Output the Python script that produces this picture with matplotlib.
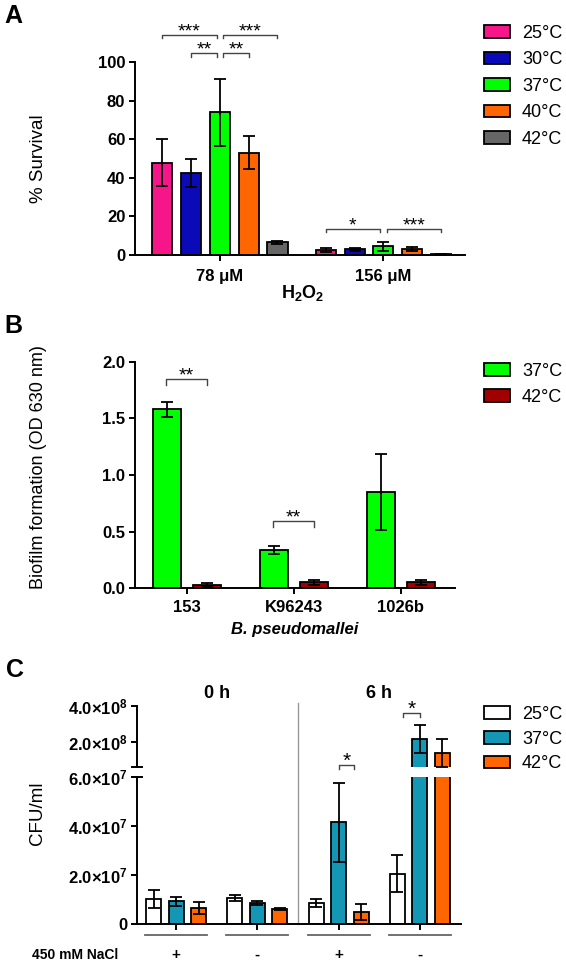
import numpy as np
import matplotlib
matplotlib.use('Agg')
import matplotlib.pyplot as plt
from matplotlib.lines import Line2D

plt.rcParams['font.family'] = 'Liberation Sans'
plt.rcParams['mathtext.fontset'] = 'custom'
plt.rcParams['mathtext.rm'] = 'Liberation Sans:bold'
plt.rcParams['mathtext.bf'] = 'Liberation Sans:bold'
plt.rcParams['mathtext.it'] = 'Liberation Sans:italic:bold'
plt.rcParams['mathtext.default'] = 'bf'
plt.rcParams['axes.linewidth'] = 1.4
plt.rcParams['xtick.major.width'] = 1.4
plt.rcParams['ytick.major.width'] = 1.4
plt.rcParams['xtick.major.size'] = 4
plt.rcParams['ytick.major.size'] = 4

# ---- panel A: survival after H2O2 ----
temps_a = ['25°C', '30°C', '37°C', '40°C', '42°C']
colors_a = ['#F7168A', '#0A0AB8', '#00FF00', '#FF6600', '#666666']
conc_a = ['78 μM', '156 μM']
surv_a = [[47.8, 2.6], [42.3, 3.0], [73.9, 4.6], [53.0, 3.2], [6.5, 0.4]]
err_a = [[12.2, 1.1], [7.3, 0.8], [17.4, 2.3], [8.4, 0.9], [1.0, 0.2]]

# ---- panel B: biofilm ----
strains_b = ['153', 'K96243', '1026b']
temps_b = ['37°C', '42°C']
colors_b = ['#00FF00', '#A00000']
biofilm_b = [[1.58, 0.34, 0.85], [0.03, 0.05, 0.05]]
err_b = [[0.07, 0.035, 0.335], [0.015, 0.02, 0.02]]

# ---- panel C: CFU/ml ----
nacl_c = ['+', '-', '+', '-']
times_c = ['0 h', '6 h']
temps_c = ['25°C', '37°C', '42°C']
colors_c = ['#FFFFFF', '#1497B4', '#FF6600']
cfu_c = [[1.02e7, 1.06e7, 0.86e7, 2.05e7],
         [0.92e7, 0.86e7, 4.15e7, 2.17e8],
         [0.66e7, 0.61e7, 0.49e7, 1.39e8]]
err_c = [[0.38e7, 0.14e7, 0.17e7, 0.76e7],
         [0.17e7, 0.08e7, 1.6e7, 0.78e8],
         [0.25e7, 0.05e7, 0.33e7, 0.78e8]]

W, H = 566, 964
fig = plt.figure(figsize=(W / 100, H / 100), dpi=100)


def px_axes(left, top, right, bottom):
    return fig.add_axes([left / W, 1 - bottom / H, (right - left) / W, (bottom - top) / H])


def style(ax):
    ax.spines['top'].set_visible(False)
    ax.spines['right'].set_visible(False)
    ax.patch.set_alpha(0)
    for lab in ax.get_xticklabels() + ax.get_yticklabels():
        lab.set_fontweight('bold')


def bracket(ax, x1, x2, y, h, text, fs=14):
    ax.plot([x1, x1, x2, x2], [y - h, y, y, y - h], color='#444444', lw=1, clip_on=False)
    ax.annotate(text, ((x1 + x2) / 2, y), xytext=(0, -1), textcoords='offset points',
                ha='center', va='baseline', fontsize=fs, annotation_clip=False)


def legend(ax, top_px, spacing):
    ax.legend(loc='upper left', bbox_to_anchor=(484 / W, 1 - top_px / H), bbox_transform=fig.transFigure,
              frameon=False, fontsize=13, handlelength=1.45, handleheight=0.7,
              handletextpad=0.65, labelspacing=spacing, borderpad=0, borderaxespad=0)


ebar = dict(fmt='none', ecolor='black', elinewidth=1.3, capsize=4, capthick=1.3)

# panel A
axA = px_axes(135, 62, 465, 255)
step_a, w_a = 0.176, 0.123
x_a = np.arange(len(conc_a))
for i, t in enumerate(temps_a):
    xs = x_a + (i - 2) * step_a
    axA.bar(xs, surv_a[i], w_a, color=colors_a[i], edgecolor='black', lw=1.3, label=t, zorder=2)
    axA.errorbar(xs, surv_a[i], yerr=err_a[i], zorder=3, **ebar)
axA.set_xlim(-0.52, 1.50)
axA.set_ylim(0, 100)
axA.set_yticks([0, 20, 40, 60, 80, 100])
axA.set_xticks(x_a)
axA.set_xticklabels(conc_a, fontsize=12)
axA.tick_params(axis='y', labelsize=12, pad=3)
axA.tick_params(axis='x', pad=6)
axA.set_ylabel('% Survival', fontsize=13.5)
axA.yaxis.set_label_coords(-0.267, 0.5)
style(axA)
bracket(axA, -2 * step_a, -0.02, 114, 1.7, '***')
bracket(axA, -step_a, -0.02, 104.5, 1.7, '**')
bracket(axA, 0.02, step_a, 104.5, 1.7, '**')
bracket(axA, 0.02, 2 * step_a, 114, 1.7, '***')
bracket(axA, 1 - 2 * step_a, 0.98, 13.5, 1.7, '*')
bracket(axA, 1.02, 1 + 2 * step_a, 13.5, 1.7, '***')
fig.text(303 / W, 1 - 293 / H, r'H$_2$O$_2$', ha='center', va='center', fontsize=13, fontweight='bold')
legend(axA, 25, 0.52)
fig.text(4 / W, 1 - 16 / H, 'A', fontsize=18, fontweight='bold', va='center')

# panel B
axB = px_axes(135, 362, 455, 588)
off_b, w_b = 0.187, 0.26
x_b = np.arange(len(strains_b))
for i, t in enumerate(temps_b):
    xs = x_b + (2 * i - 1) * off_b
    axB.bar(xs, biofilm_b[i], w_b, color=colors_b[i], edgecolor='black', lw=1.3, label=t, zorder=2)
    axB.errorbar(xs, biofilm_b[i], yerr=err_b[i], zorder=3, **ebar)
axB.set_xlim(-0.486, 2.505)
axB.set_ylim(0, 2.0)
axB.set_yticks([0, 0.5, 1.0, 1.5, 2.0])
axB.set_yticklabels(['0.0', '0.5', '1.0', '1.5', '2.0'])
axB.set_xticks(x_b)
axB.set_xticklabels(strains_b, fontsize=12)
axB.tick_params(axis='y', labelsize=12, pad=3)
axB.tick_params(axis='x', pad=5)
axB.set_ylabel('Biofilm formation (OD 630 nm)', fontsize=13)
axB.yaxis.set_label_coords(-0.275, 0.535)
axB.set_xlabel('B. pseudomallei', fontsize=12, fontstyle='italic', fontweight='bold', labelpad=5)
style(axB)
bracket(axB, -off_b - 0.01, off_b, 1.85, 0.05, '**')
bracket(axB, 1 - off_b - 0.01, 1 + off_b, 0.59, 0.05, '**')
legend(axB, 363, 0.5)
fig.text(4 / W, 1 - 326 / H, 'B', fontsize=18, fontweight='bold', va='center')

# panel C: broken y axis
axC = px_axes(137, 777, 461, 924)
axU = px_axes(137, 706, 461, 767)
off_c, w_c = 0.277, 0.185
x_c = np.arange(len(nacl_c))
for ax, lo in ((axC, 0), (axU, 6e7)):
    for i, t in enumerate(temps_c):
        xs = x_c + (i - 1) * off_c
        vals = np.array(cfu_c[i])
        errs = np.array(err_c[i])
        ax.bar(xs, vals, w_c, color=colors_c[i], edgecolor='black', lw=1.3, label=t, zorder=2)
        keep = vals > lo
        ax.errorbar(xs[keep], vals[keep], yerr=errs[keep], zorder=3, **ebar)
    ax.set_xlim(-0.48, 3.505)
axC.set_ylim(0, 6e7)
axC.set_yticks([0, 2e7, 4e7, 6e7])
axC.set_yticklabels(['0', r'2.0×10$^{7}$', r'4.0×10$^{7}$', r'6.0×10$^{7}$'])
axU.set_ylim(0.6e8, 4e8)
axU.set_yticks([2e8, 4e8])
axU.set_yticklabels([r'2.0×10$^{8}$', r'4.0×10$^{8}$'])
axU.spines['bottom'].set_visible(False)
axU.set_xticks([])
axC.set_xticks(x_c)
axC.set_xticklabels([])
for ax in (axC, axU):
    ax.tick_params(axis='y', labelsize=12, pad=3)
    style(ax)
for yy in (767, 777):
    fig.add_artist(Line2D([132 / W, 142 / W], [1 - yy / H] * 2, color='black', lw=1.4))

axC.axvline(1.5, ymin=0, ymax=(924 - 703) / 147, color='#999999', lw=1, clip_on=False, zorder=1)
tr = axC.get_xaxis_transform()
for g, lab in enumerate(nacl_c):
    axC.plot([g - 0.38, g + 0.38], [-0.075, -0.075], color='#666666', lw=1.3, transform=tr, clip_on=False)
    axC.text(g, -0.21, lab, transform=tr, ha='center', va='center', fontsize=11, fontweight='bold')
for k, lab in enumerate(times_c):
    axC.text(0.5 + 2 * k, 1.571, lab, transform=tr, ha='center', va='center', fontsize=13, fontweight='bold')
fig.text(75 / W, 1 - 955 / H, '450 mM NaCl', ha='center', va='center', fontsize=10, fontweight='bold')
fig.text(37 / W, 1 - 813 / H, 'CFU/ml', rotation=90, ha='center', va='center', fontsize=13.5)

bracket(axC, 2.0, 2.19, 6.49e7, 0.16e7, '*', fs=15)
bracket(axU, 3 - off_c + 0.07, 3.0, 3.61e8, 0.22e8, '*', fs=15)

legend(axC, 706, 0.42)
fig.text(6 / W, 1 - 670 / H, 'C', fontsize=18, fontweight='bold', va='center')

fig.savefig('out.png', dpi=100)
